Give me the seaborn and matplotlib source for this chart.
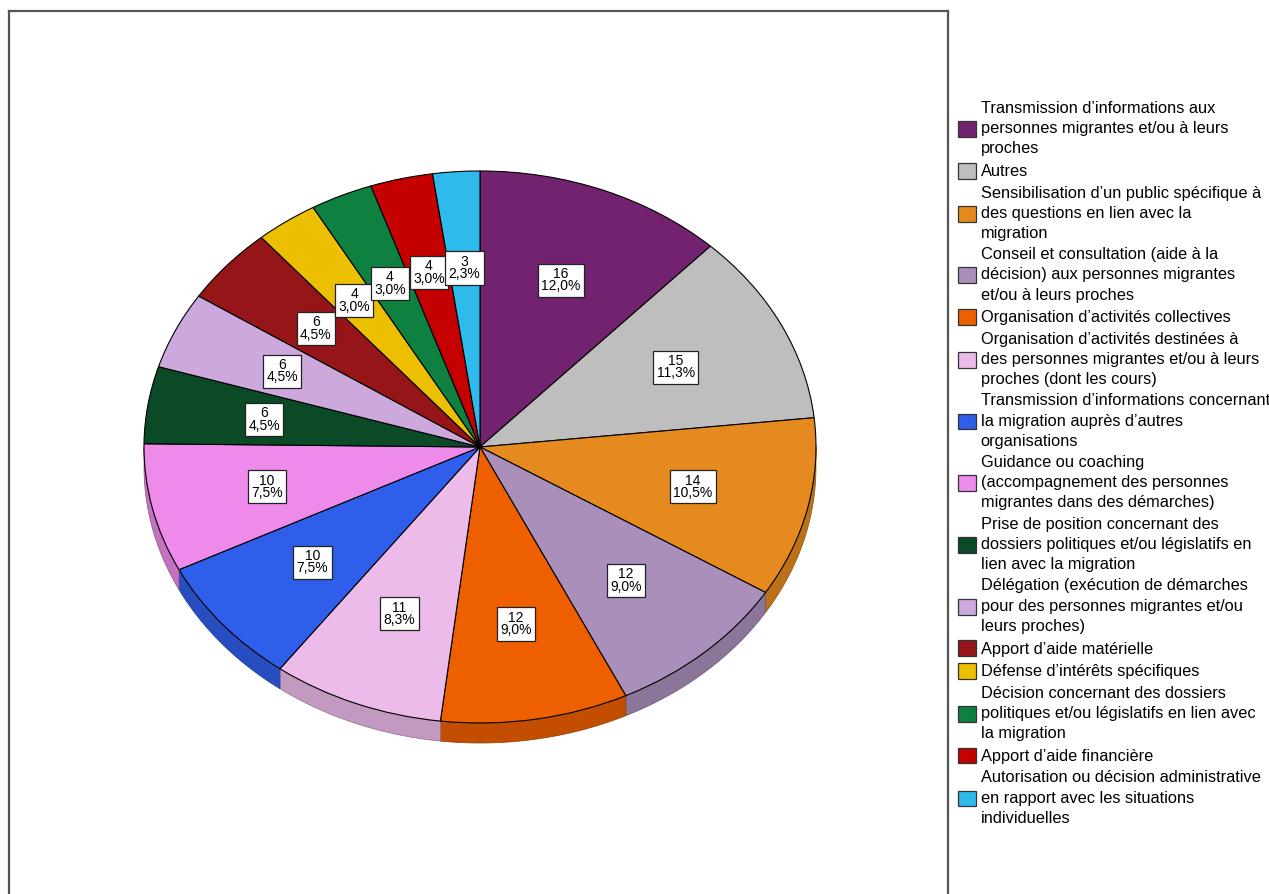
import numpy as np
import matplotlib
matplotlib.use("Agg")
import matplotlib.pyplot as plt
import matplotlib.colors as mcolors
from matplotlib.patches import Polygon, Patch
import seaborn as sns

# ---- data ----
categories = [
    "Transmission d’informations aux\npersonnes migrantes et/ou à leurs\nproches",
    "Autres",
    "Sensibilisation d’un public spécifique à\ndes questions en lien avec la\nmigration",
    "Conseil et consultation (aide à la\ndécision) aux personnes migrantes\net/ou à leurs proches",
    "Organisation d’activités collectives",
    "Organisation d’activités destinées à\ndes personnes migrantes et/ou à leurs\nproches (dont les cours)",
    "Transmission d’informations concernant\nla migration auprès d’autres\norganisations",
    "Guidance ou coaching\n(accompagnement des personnes\nmigrantes dans des démarches)",
    "Prise de position concernant des\ndossiers politiques et/ou législatifs en\nlien avec la migration",
    "Délégation (exécution de démarches\npour des personnes migrantes et/ou\nleurs proches)",
    "Apport d’aide matérielle",
    "Défense d’intérêts spécifiques",
    "Décision concernant des dossiers\npolitiques et/ou législatifs en lien avec\nla migration",
    "Apport d’aide financière",
    "Autorisation ou décision administrative\nen rapport avec les situations\nindividuelles",
]
counts = [16, 15, 14, 12, 12, 11, 10, 10, 6, 6, 6, 4, 4, 4, 3]
slice_colors = [
    "#72226f", "#bebebe", "#e58a1e", "#aa8fba", "#ee5f00",
    "#ecbbea", "#2f5fea", "#ee8aea", "#0b4a27", "#cca8dd",
    "#951519", "#ecc000", "#0e8040", "#c40000", "#2ebbeb",
]

# ---- style ----
sns.set_theme(style="white")
plt.rcParams["font.family"] = ["Liberation Sans", "DejaVu Sans"]
plt.rcParams["text.color"] = "black"

W, H = 1269, 894
fig = plt.figure(figsize=(W / 100, H / 100), dpi=100)

# frame box and pie ellipse, in pixels
fl, fr, ft, fb = 9, 948, 11, 910
cx, cy, rx, ry = 480, 447, 336, 276
depth = 20 / ry

ax = fig.add_axes([fl / W, 1 - fb / H, (fr - fl) / W, (fb - ft) / H])

total = sum(counts)


def fmt(p):
    return f"{p * total / 100:.0f}\n{p:.1f}%".replace(".", ",")


wedges, _, autotexts = ax.pie(
    counts,
    colors=slice_colors,
    startangle=90,
    counterclock=False,
    autopct=fmt,
    pctdistance=0.65,
    frame=True,
    wedgeprops=dict(edgecolor="black", linewidth=0.8),
    textprops=dict(fontsize=10, color="black"),
)
for t in autotexts:
    t.set_linespacing(0.86)
    t.set_bbox(dict(boxstyle="square,pad=0.24", fc="white", ec="#222222", lw=0.9))

# side band of the tilted disc (lower half only)
bounds = 90 - 360 * np.concatenate([[0], np.cumsum(counts)]) / total
for k, col in enumerate(slice_colors):
    hi, lo = bounds[k], bounds[k + 1]
    a, b = max(lo, -180), min(hi, 0)
    if a >= b:
        continue
    t = np.radians(np.linspace(a, b, 80))
    top = np.column_stack([np.cos(t), np.sin(t)])
    bot = np.column_stack([np.cos(t), np.sin(t) - depth])[::-1]
    rgb = np.array(mcolors.to_rgb(col))
    side = rgb * 0.82
    ax.add_patch(Polygon(np.vstack([top, bot]), closed=True, fc=side,
                         ec=rgb * 0.6, lw=0.5, zorder=0.5))

ax.set_aspect("auto")
ax.set_xlim(-(cx - fl) / rx, (fr - cx) / rx)
ax.set_ylim(-(fb - cy) / ry, (cy - ft) / ry)
ax.set_xticks([])
ax.set_yticks([])
for s in ax.spines.values():
    s.set_visible(True)
    s.set_color("#555555")
    s.set_linewidth(1.6)

handles = [Patch(fc=c, ec="#333333", lw=0.9) for c in slice_colors]
leg = fig.legend(
    handles, categories,
    loc="upper left",
    bbox_to_anchor=(958 / W, 1 - 101 / H),
    frameon=False,
    fontsize=11.75,
    handlelength=1.1,
    handleheight=1.12,
    handletextpad=0.28,
    labelspacing=0.39,
    borderaxespad=0,
    borderpad=0,
)
for t in leg.get_texts():
    t.set_linespacing(1.43)
    t.set_color("black")

fig.savefig("out.png", dpi=100)
